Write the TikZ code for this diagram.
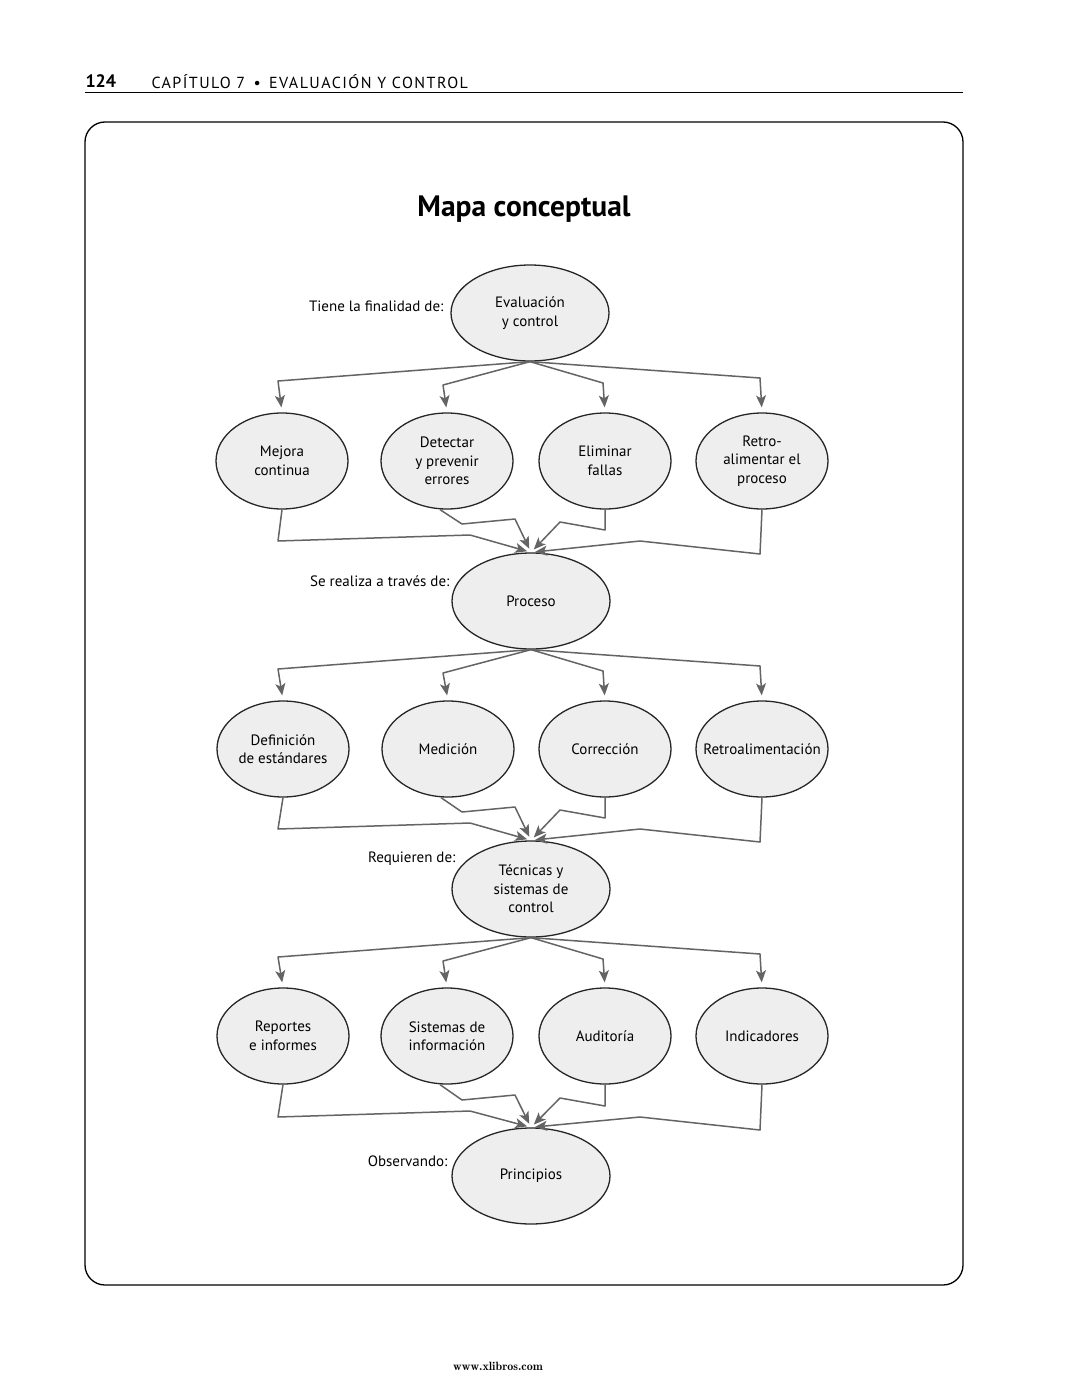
\documentclass[tikz,border=0pt]{standalone}
\usepackage{fontspec}
\setmainfont{PT Sans}
\usetikzlibrary{shapes.geometric,arrows.meta}
\definecolor{fillg}{RGB}{238,238,238}
\definecolor{lineg}{RGB}{100,100,100}
\tikzset{
 el/.style={ellipse,draw=black!85,line width=1.3pt,fill=fillg,minimum width=132pt,minimum height=96pt,inner sep=0pt,align=center,font=\fontsize{15}{18.5}\selectfont},
 big/.style={el,minimum width=158pt},
 lbl/.style={anchor=east,font=\fontsize{15}{18}\selectfont},
 cn/.style={draw=lineg,line width=1.5pt,-{Stealth[length=12pt,width=10pt,inset=3pt]},shorten >=5pt,line join=round},
}
\newcommand\lvl[7]{%
 \begin{scope}[shift={(0,#1)}]
 \draw[cn] (#2.south) -- (278,381) -- (#3.north);
 \draw[cn] (#2.south) -- (443,385) -- (#4.north);
 \draw[cn] (#2.south) -- (603,383) -- (#5.north);
 \draw[cn] (#2.south) -- (760,378) -- (#6.north);
 \draw[cn,shorten >=4pt] (#3.south) -- (278,541) -- (470,535) -- (#7.north);
 \draw[cn,shorten >=4pt] ([xshift=-7pt]#4.south) -- (462,524) -- (515,519) -- (#7.north);
 \draw[cn,shorten >=4pt] (#5.south) -- (605,530) -- (560,522) -- (#7.north);
 \draw[cn,shorten >=4pt] (#6.south) -- (760,554) -- (640,541) -- (#7.north);
 \end{scope}}
\begin{document}
\begin{tikzpicture}[x=1pt,y=-1pt]
\useasboundingbox (0,0) rectangle (1080,1388);
\fill[white] (0,0) rectangle (1080,1388);
% header
\node[anchor=west,font=\fontsize{18}{20}\selectfont\bfseries] (pg) at (82,81) {124};
\node[anchor=west,font=\fontsize{16}{18}\selectfont\addfontfeatures{LetterSpace=9}] (hd) at (148,82) {CAPÍTULO 7 \,•\, EVALUACIÓN Y CONTROL};
\draw[line width=0.8pt] (85,92) -- (963,92);
\draw[line width=1.3pt,rounded corners=20pt] (85,122) rectangle (963,1285);
\node[font=\fontsize{29.5}{32}\selectfont\bfseries] (title) at (524,209) {Mapa conceptual};
% nodes
\node[big] (T0) at (530,313) {Evaluación\\y control};
\node[el] (a1) at (282,461) {Mejora\\continua};
\node[el] (b1) at (447,461) {Detectar\\y prevenir\\errores};
\node[el] (c1) at (605,461) {Eliminar\\fallas};
\node[el] (d1) at (762,461) {Retro-\\alimentar el\\proceso};
\node[big] (T1) at (531,601) {Proceso};
\node[el] (a2) at (283,749) {Definición\\de estándares};
\node[el] (b2) at (448,749) {Medición};
\node[el] (c2) at (605,749) {Corrección};
\node[el] (d2) at (762,749) {\makebox[60pt]{Retroalimentación}};
\node[big] (T2) at (531,889) {Técnicas y\\sistemas de\\control};
\node[el] (a3) at (283,1036) {Reportes\\e informes};
\node[el] (b3) at (447,1036) {Sistemas de\\información};
\node[el] (c3) at (605,1036) {Auditoría};
\node[el] (d3) at (762,1036) {Indicadores};
\node[big] (T3) at (531,1176) {Principios};
% labels
\node[lbl] (l0) at (447,306) {Tiene la finalidad de:};
\node[lbl] (l1) at (453,581) {Se realiza a través de:};
\node[lbl] (l2) at (459,859) {Requieren de:};
\node[lbl] (l3) at (451,1161) {Observando:};
% connectors
\lvl{0}{T0}{a1}{b1}{c1}{d1}{T1}
\lvl{288}{T1}{a2}{b2}{c2}{d2}{T2}
\lvl{576}{T2}{a3}{b3}{c3}{d3}{T3}
% footer
\node[font=\fontfamily{lmr}\fontsize{12}{14}\selectfont\bfseries] (ft) at (498,1366) {www.xlibros.com};
\end{tikzpicture}
\end{document}
